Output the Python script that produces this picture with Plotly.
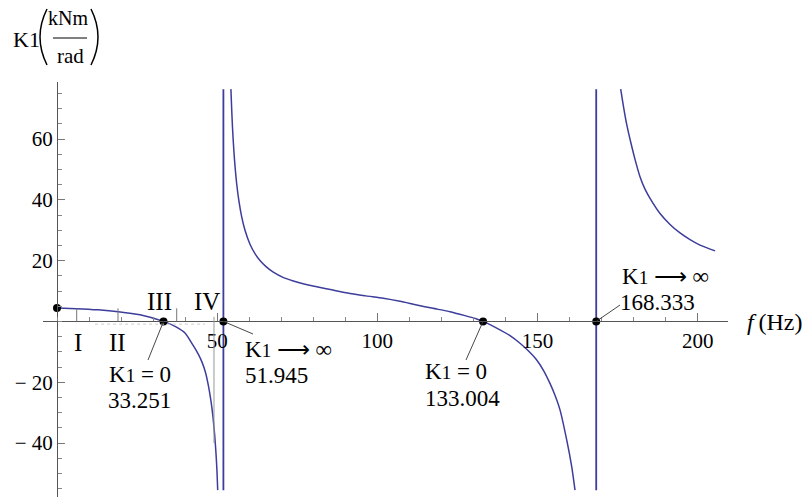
import plotly.graph_objects as go

W, H = 805, 497
SERIF = "Liberation Serif, Times New Roman, serif"

# --- K1(f) curve, three branches separated by the poles ---
f_branch1 = [0.0, 6.15, 12.80, 19.14, 25.91, 33.251, 37.15, 39.96, 42.46, 44.02,
             45.27, 46.36, 47.29, 48.08, 48.70, 49.23, 49.64, 49.95, 50.17]
k_branch1 = [4.412, 4.2, 3.8, 3.2, 2.2, 0.0, -1.8, -3.8, -7.8, -10.6,
             -13.4, -16.8, -21.3, -26.3, -31.5, -37.5, -43.5, -49.5, -55.5]

f_branch2 = [54.29, 54.54, 54.79, 55.04, 55.41, 56.10, 56.82, 57.66, 58.69, 60.25,
             61.81, 63.37, 65.25, 67.52, 70.55, 73.77, 77.42, 81.07, 86.16, 91.47,
             96.46, 101.86, 107.08, 112.29, 117.38, 122.69, 127.37, 131.02, 133.004,
             138.29, 141.42, 144.54, 147.04, 149.75, 152.03, 153.90, 155.46, 157.02,
             159.12, 160.68, 161.71]
k_branch2 = [76.4, 69.6, 63.8, 59.0, 53.2, 45.2, 39.4, 34.4, 30.0, 25.4,
             22.3, 20.0, 18.0, 16.2, 14.5, 13.3, 12.2, 11.4, 10.3, 9.2,
             8.4, 7.6, 6.6, 5.4, 4.3, 3.2, 1.9, 0.8, 0.0,
             -2.8, -4.7, -7.2, -9.6, -12.7, -16.4, -20.4, -24.3, -29.1,
             -39.0, -47.8, -55.5]

f_branch3 = [175.97, 176.79, 177.85, 179.41, 180.44, 182.00, 183.56, 185.13, 188.25,
             191.37, 194.49, 197.61, 200.74, 205.43]
k_branch3 = [76.4, 71.0, 64.8, 57.6, 53.3, 47.6, 43.5, 40.5, 35.5,
             31.9, 29.1, 26.9, 25.1, 23.2]

# --- characteristic points ---
k_at_zero_freq = 4.412
zero_freqs = [33.251, 133.004]   # K1 = 0
pole_freqs = [51.945, 168.333]   # K1 -> infinity

# vertical extent of the plotted curve
k_plot_min, k_plot_max = -55.5, 76.4

# --- axes ---
x_tick_vals = [50, 100, 150, 200]
x_tick_text = ["50", "100", "150", "200"]
y_tick_vals = [-40, -20, 20, 40, 60]
y_tick_text = ["\u2212 40", "\u2212 20", "20", "40", "60"]

# --- frequency regions ---
region_names = ["I", "II", "III", "IV"]
region_marks = [6.15, 19.04, 37.37, 49.01]

CURVE = "#3d3d9c"

fig = go.Figure()

cx, cy = [], []
for fs, ks in ((f_branch1, k_branch1), (f_branch2, k_branch2), (f_branch3, k_branch3)):
    cx += fs + [None]
    cy += ks + [None]
fig.add_trace(go.Scatter(x=cx, y=cy, mode="lines",
                         line=dict(color=CURVE, width=1.5, shape="spline", smoothing=0.6),
                         hoverinfo="skip"))

# asymptote jumps at the poles
px, py = [], []
for p in pole_freqs:
    px += [p, p, None]
    py += [k_plot_min, k_plot_max, None]
fig.add_trace(go.Scatter(x=px, y=py, mode="lines", line=dict(color=CURVE, width=1.8),
                         hoverinfo="skip"))

# region boundary marks
for m in region_marks[:3]:
    fig.add_shape(type="line", x0=m, x1=m, y0=0, y1=4.3, line=dict(color="#777", width=1))
fig.add_shape(type="line", x0=region_marks[3], x1=region_marks[3], y0=1.5, y1=-40,
              line=dict(color="#999", width=1))
fig.add_shape(type="line", x0=11.9, x1=46.2, y0=-0.9, y1=-0.9,
              line=dict(color="#cccccc", width=1, dash="dot"))

# leader lines from the marked points to their labels
leaders = [
    (zero_freqs[0], 28.41, -12.7),
    (pole_freqs[0], 61.19, -4.14),
    (zero_freqs[1], 127.68, -12.7),
    (pole_freqs[1], 175.76, 5.39),
]
for f0, fx, ky in leaders:
    fig.add_shape(type="line", x0=f0, y0=0, x1=fx, y1=ky, line=dict(color="#333", width=0.9))

# marked points
mx = [0.0] + zero_freqs + pole_freqs
my = [k_at_zero_freq] + [0, 0] + [0, 0]
fig.add_trace(go.Scatter(x=mx, y=my, mode="markers",
                         marker=dict(color="black", size=8), hoverinfo="skip"))

K1 = "K<span style='font-size:19px'>1</span>"
ARROW = "<span style='font-family:DejaVu Sans'>\u27f6</span>"
ann = []


def txt(text, x, y, size=23, xanchor="left", xref="x", yref="y"):
    ann.append(dict(text=text, x=x, y=y, xref=xref, yref=yref, showarrow=False,
                    xanchor=xanchor, yanchor="middle",
                    font=dict(family=SERIF, size=size, color="black")))


txt(f"{k_at_zero_freq:.3f}", -4.68, 9.34, size=22, xanchor="center")
txt(K1 + " = 0", 15.6, -17.3)
txt(f"{zero_freqs[0]:.3f}", 15.3, -26.0)
txt(K1 + " " + ARROW + " \u221e", 58.1, -9.0)
txt(f"{pole_freqs[0]:.3f}", 58.1, -17.9)
txt(K1 + " = 0", 114.3, -16.6)
txt(f"{zero_freqs[1]:.3f}", 114.3, -25.2)
txt(K1 + " " + ARROW + " \u221e", 175.8, 15.0)
txt(f"{pole_freqs[1]:.3f}", 175.2, 6.1)

region_label_pos = [(6.4, -6.8), (18.73, -6.8), (32.0, 6.7), (46.98, 6.7)]
for name, (rx, ry) in zip(region_names, region_label_pos):
    txt(name, rx, ry, size=25, xanchor="center")

# axis titles (paper coordinates)
txt("<i>f</i>\u2009(Hz)", 774 / W, 1 - 322 / H, size=24, xanchor="center", xref="paper", yref="paper")
txt("K1", 27 / W, 1 - 40 / H, size=22, xanchor="center", xref="paper", yref="paper")
txt("kNm", 68 / W, 1 - 18 / H, size=20, xanchor="center", xref="paper", yref="paper")
txt("rad", 70 / W, 1 - 56 / H, size=21, xanchor="center", xref="paper", yref="paper")


def P(x, y):
    return f"{x / W:.5f},{1 - y / H:.5f}"


for path in (f"M {P(47, 9)} Q {P(33, 37)} {P(47, 65)}",
             f"M {P(91, 9)} Q {P(105, 37)} {P(91, 65)}"):
    fig.add_shape(type="path", path=path, xref="paper", yref="paper",
                  line=dict(color="black", width=1.5))
fig.add_shape(type="line", xref="paper", yref="paper", x0=53 / W, x1=87 / W,
              y0=1 - 38 / H, y1=1 - 38 / H, line=dict(color="black", width=1))

tickfont = dict(family=SERIF, size=21, color="black")
fig.update_layout(
    width=W, height=H,
    margin=dict(l=0, r=0, t=0, b=0),
    paper_bgcolor="white", plot_bgcolor="white",
    showlegend=False,
    annotations=ann,
    xaxis=dict(
        domain=[43 / W, 728 / W], range=[-4.3705, 209.47],
        anchor="free", position=(H - 321.4) / H,
        showline=True, linecolor="#555", linewidth=1,
        showgrid=False, zeroline=False,
        tickmode="array", tickvals=x_tick_vals, ticktext=x_tick_text,
        ticks="inside", ticklen=8, tickwidth=1, tickcolor="#777",
        minor=dict(tickmode="linear", tick0=0, dtick=10, ticks="inside",
                   ticklen=4, tickcolor="#888", showgrid=False),
        tickfont=tickfont,
    ),
    yaxis=dict(
        domain=[0, (H - 82) / H], range=[-57.76, 78.75],
        anchor="free", position=57 / W, side="left",
        showline=True, linecolor="#555", linewidth=1,
        showgrid=False, zeroline=False,
        tickmode="array", tickvals=y_tick_vals, ticktext=y_tick_text,
        ticks="inside", ticklen=7, tickwidth=1, tickcolor="#777",
        minor=dict(tickmode="linear", tick0=0, dtick=5, ticks="inside",
                   ticklen=4, tickcolor="#888", showgrid=False),
        tickfont=tickfont,
    ),
)

fig.write_html("out.html")
